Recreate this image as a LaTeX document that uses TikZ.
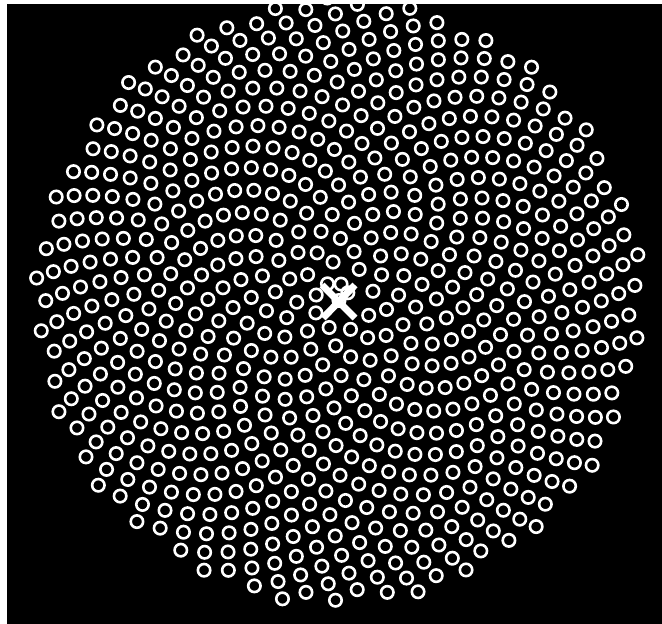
\documentclass[tikz,border=0pt]{standalone}
\tikzset{
  ring/.style={draw=white, line width=2.6pt},
  xline/.style={draw=white, line width=7pt, line cap=butt}
}
\begin{document}
\begin{tikzpicture}[x=1pt,y=-1pt]
\useasboundingbox (0,0) rectangle (662,624);
\fill[white] (0,0) rectangle (662,624);
\fill[black] (7,4) rectangle (662,624);
\begin{scope}
\clip (7,4) rectangle (662,624);
\foreach \n in {0,...,670} {
  \edef\px{\fpeval{339+11.73*sqrt(\n)*cosd(0.6-41.761*\n)}}
  \edef\py{\fpeval{300.5+11.73*sqrt(\n)*sind(0.6-41.761*\n)}}
  \draw[ring] (\px,\py) circle[radius=6.2];
}
\end{scope}
\coordinate (a1) at (322,285);
\coordinate (a2) at (355,318);
\coordinate (b1) at (355,285);
\coordinate (b2) at (323,318);
\draw[xline] (a1) -- (a2);
\draw[xline] (b1) -- (b2);
\end{tikzpicture}
\end{document}
